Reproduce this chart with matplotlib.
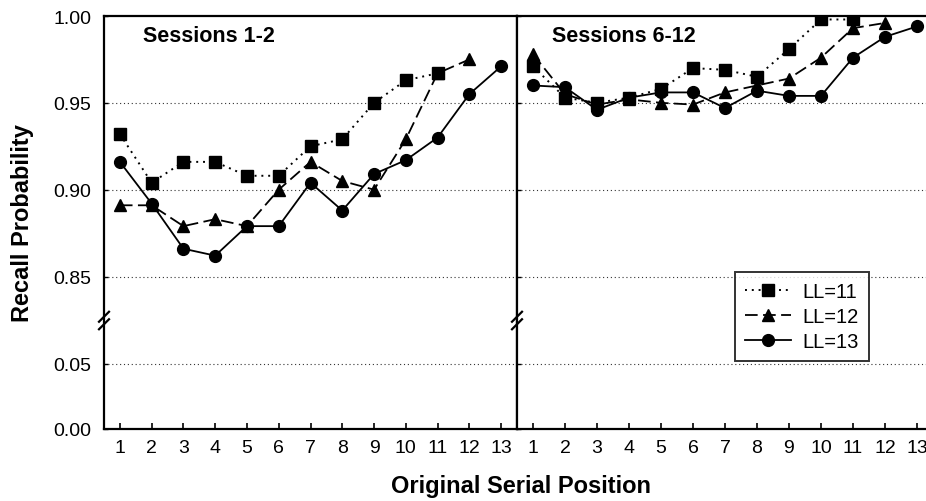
import numpy as np
import matplotlib
matplotlib.use("Agg")
import matplotlib.pyplot as plt

plt.rcParams['font.family'] = ['Liberation Sans', 'DejaVu Sans']

# ---------------- data ----------------
positions_11 = list(range(1, 12))
positions_12 = list(range(1, 13))
positions_13 = list(range(1, 14))

s12_ll11 = [0.932, 0.904, 0.916, 0.916, 0.908, 0.908, 0.925, 0.929, 0.950, 0.963, 0.967]
s12_ll12 = [0.891, 0.891, 0.879, 0.883, 0.879, 0.900, 0.916, 0.905, 0.900, 0.929, 0.967, 0.975]
s12_ll13 = [0.916, 0.892, 0.866, 0.862, 0.879, 0.879, 0.904, 0.888, 0.909, 0.917, 0.930, 0.955, 0.971]

s612_ll11 = [0.971, 0.953, 0.950, 0.953, 0.958, 0.970, 0.969, 0.965, 0.981, 0.998, 0.998]
s612_ll12 = [0.978, 0.955, 0.949, 0.952, 0.950, 0.949, 0.956, 0.960, 0.964, 0.976, 0.993, 0.996]
s612_ll13 = [0.960, 0.959, 0.946, 0.953, 0.956, 0.956, 0.947, 0.957, 0.954, 0.954, 0.976, 0.988, 0.994]

panel_titles = ["Sessions 1-2", "Sessions 6-12"]
legend_labels = ["LL=11", "LL=12", "LL=13"]
y_ticks = [0.00, 0.05, 0.85, 0.90, 0.95, 1.00]
x_ticks = list(range(1, 14))

# ---------------- broken y scale ----------------
_v = np.array([0.0, 0.05, 0.85, 1.0])
_p = np.array([0.0, 65.0, 152.5, 413.0])


def fwd(v):
    return np.interp(v, _v, _p)


def inv(p):
    return np.interp(p, _p, _v)


fig = plt.figure(figsize=(9.26, 5.02), dpi=100)
W, H = 926.0, 502.0
ax_l = fig.add_axes([104 / W, (H - 430) / H, 413 / W, 413 / H])
ax_r = fig.add_axes([517 / W, (H - 430) / H, 416 / W, 413 / H])

panels = [
    (ax_l, s12_ll11, s12_ll12, s12_ll13, panel_titles[0]),
    (ax_r, s612_ll11, s612_ll12, s612_ll13, panel_titles[1]),
]

handles = None
for i, (ax, d11, d12, d13, title) in enumerate(panels):
    ax.set_yscale('function', functions=(fwd, inv))
    ax.set_ylim(0.0, 1.0)
    ax.set_xlim(0.5, 13.5)
    for gy in [0.05, 0.85, 0.90, 0.95]:
        ax.axhline(gy, color='#333333', lw=0.8, ls=(0, (1, 2.5)), zorder=1)
    h1, = ax.plot(positions_11, d11, color='black', ls=(0, (1, 2.5)), lw=1.4,
                  marker='s', ms=8, zorder=3, label=legend_labels[0])
    h2, = ax.plot(positions_12, d12, color='black', ls=(0, (7, 3)), lw=1.3,
                  marker='^', ms=9, zorder=3, label=legend_labels[1])
    h3, = ax.plot(positions_13, d13, color='black', ls='-', lw=1.3,
                  marker='o', ms=8.5, zorder=3, label=legend_labels[2])
    handles = [h1, h2, h3]

    ax.set_xticks(x_ticks)
    ax.set_xticklabels([str(t) for t in x_ticks], fontsize=14)
    ax.set_yticks(y_ticks)
    ax.yaxis.set_minor_locator(matplotlib.ticker.NullLocator())
    if i == 0:
        ax.set_yticklabels(["%.2f" % t for t in y_ticks], fontsize=14)
    else:
        ax.set_yticklabels([])
    ax.tick_params(axis='x', direction='in', length=4, width=1.2, pad=7)
    ax.tick_params(axis='y', direction='in', length=3, width=1.0, pad=9)
    for s in ax.spines.values():
        s.set_linewidth(1.6)
    ax.text(0.094 if i == 0 else 0.084, 0.978, title, transform=ax.transAxes,
            fontsize=15.5, fontweight='bold', ha='left', va='top')

    # break marks on left spine
    by = fwd(0.45) / 413.0
    for off in (-4.0, 3.5):
        xs = np.array([-5.0, 5.0]) / (413.0 if i == 0 else 416.0)
        ys = by + (np.array([-5.0, 5.0]) + off) / 413.0
        ax.plot(xs, ys, color='black', lw=1.6, transform=ax.transAxes,
                clip_on=False, zorder=5)
    if i == 1:
        for off in (-4.0, 3.5):
            xs = 1.0 + np.array([-5.0, 5.0]) / 416.0
            ys = by + (np.array([-5.0, 5.0]) + off) / 413.0
            ax.plot(xs, ys, color='black', lw=1.6, transform=ax.transAxes,
                    clip_on=False, zorder=5)

leg = ax_r.legend(handles=handles, labels=legend_labels, loc='upper left',
                  bbox_to_anchor=(0.524, 0.380), fontsize=14.5, frameon=True,
                  fancybox=False, edgecolor='black', handlelength=2.3,
                  borderpad=0.5, labelspacing=0.3, handletextpad=0.55,
                  borderaxespad=0.0)
leg.get_frame().set_linewidth(1.4)

fig.text(23 / W, 1 - 223 / H, "Recall Probability", rotation=90, fontsize=17,
         fontweight='bold', ha='center', va='center')
fig.text(521 / W, 1 - 487 / H, "Original Serial Position", fontsize=17,
         fontweight='bold', ha='center', va='center')

fig.savefig("out.png", dpi=100)
